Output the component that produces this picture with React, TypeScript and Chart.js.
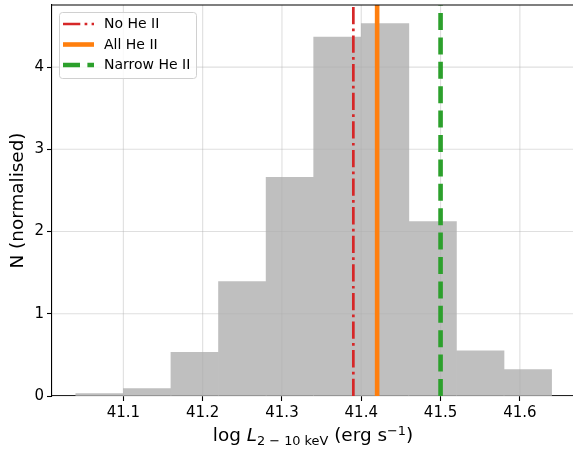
import React, { useEffect, useRef } from "react";
import { Chart, registerables } from "chart.js";

Chart.register(...registerables);

// ---- data ----
const binEdges = [41.04, 41.1, 41.16, 41.22, 41.28, 41.34, 41.4, 41.46, 41.52, 41.58, 41.64];
const density = [0.03, 0.09, 0.53, 1.39, 2.66, 4.365, 4.528, 2.12, 0.55, 0.32];
const xTicks = [41.1, 41.2, 41.3, 41.4, 41.5, 41.6];
const yTicks = [0, 1, 2, 3, 4];
const lineLabels = ["No He II", "All He II", "Narrow He II"];
const lineValues = [41.39, 41.42, 41.5];
const xRange = [41.01, 41.667];
const yMax = 4.755;

// ---- styles ----
const FONT = "'DejaVu Sans', 'Liberation Sans', sans-serif";
const lineColors = ["#d62728", "#ff7f0e", "#2ca02c"];
const lineWidths = [2.7, 4.6, 4.6];
const lineDashes: number[][] = [[17.3, 4.3, 2.7, 4.3], [], [17, 7.4]];
const barColor = "#bfbfbf";
const gridColor = "rgba(176,176,176,0.4)";
const LABEL_SIZE = 18.4;

const decor = {
  id: "decor",
  afterDatasetDraw(chart: any, args: any) {
    if (args.index !== 0) return;
    const { ctx, chartArea: a, scales } = chart;
    const x = scales.x;
    const y = scales.y;
    ctx.save();
    ctx.strokeStyle = gridColor;
    ctx.lineWidth = 1.1;
    ctx.setLineDash([]);
    xTicks.forEach((v) => {
      const px = x.getPixelForValue(v);
      ctx.beginPath();
      ctx.moveTo(px, a.top);
      ctx.lineTo(px, a.bottom);
      ctx.stroke();
    });
    yTicks.forEach((v) => {
      const py = y.getPixelForValue(v);
      ctx.beginPath();
      ctx.moveTo(a.left, py);
      ctx.lineTo(a.right, py);
      ctx.stroke();
    });
    ctx.restore();
  },
  afterDraw(chart: any) {
    const { ctx, chartArea: a } = chart;
    ctx.save();
    // top spine
    ctx.strokeStyle = "#000";
    ctx.lineWidth = 1.1;
    ctx.setLineDash([]);
    ctx.beginPath();
    ctx.moveTo(a.left, a.top);
    ctx.lineTo(a.right, a.top);
    ctx.stroke();

    // legend
    const bx = 59.5, by = 12.5, bw = 137, bh = 66, r = 3;
    ctx.beginPath();
    ctx.moveTo(bx + r, by);
    ctx.lineTo(bx + bw - r, by);
    ctx.quadraticCurveTo(bx + bw, by, bx + bw, by + r);
    ctx.lineTo(bx + bw, by + bh - r);
    ctx.quadraticCurveTo(bx + bw, by + bh, bx + bw - r, by + bh);
    ctx.lineTo(bx + r, by + bh);
    ctx.quadraticCurveTo(bx, by + bh, bx, by + bh - r);
    ctx.lineTo(bx, by + r);
    ctx.quadraticCurveTo(bx, by, bx + r, by);
    ctx.closePath();
    ctx.fillStyle = "rgba(255,255,255,0.8)";
    ctx.fill();
    ctx.strokeStyle = "#d0d0d0";
    ctx.lineWidth = 1;
    ctx.stroke();
    const rows = [24, 44.5, 65];
    lineLabels.forEach((lab, i) => {
      ctx.strokeStyle = lineColors[i];
      ctx.lineWidth = lineWidths[i];
      ctx.setLineDash(lineDashes[i]);
      ctx.lineCap = "butt";
      ctx.beginPath();
      ctx.moveTo(63, rows[i]);
      ctx.lineTo(94, rows[i]);
      ctx.stroke();
      ctx.setLineDash([]);
      ctx.fillStyle = "#000";
      ctx.font = `14px ${FONT}`;
      ctx.textAlign = "left";
      ctx.textBaseline = "middle";
      ctx.fillText(lab, 104, rows[i] + 0.5);
    });

    // y title
    ctx.save();
    ctx.translate(18, (a.top + a.bottom) / 2);
    ctx.rotate(-Math.PI / 2);
    ctx.font = `${LABEL_SIZE}px ${FONT}`;
    ctx.fillStyle = "#000";
    ctx.textAlign = "center";
    ctx.textBaseline = "middle";
    ctx.fillText("N (normalised)", 0, 0);
    ctx.restore();

    // x title with sub/superscripts
    const sub = LABEL_SIZE * 0.7;
    const pieces = [
      { t: "log ", f: `${LABEL_SIZE}px ${FONT}`, dy: 0 },
      { t: "L", f: `italic ${LABEL_SIZE}px ${FONT}`, dy: 0 },
      { t: "2 \u2212 10 keV", f: `${sub}px ${FONT}`, dy: 4 },
      { t: " (erg s", f: `${LABEL_SIZE}px ${FONT}`, dy: 0 },
      { t: "\u22121", f: `${sub}px ${FONT}`, dy: -6.5 },
      { t: ")", f: `${LABEL_SIZE}px ${FONT}`, dy: 0 },
    ];
    let total = 0;
    const widths = pieces.map((p) => {
      ctx.font = p.f;
      const w = ctx.measureText(p.t).width;
      total += w;
      return w;
    });
    let cx = 313 - total / 2;
    const base = 441;
    ctx.fillStyle = "#000";
    ctx.textAlign = "left";
    ctx.textBaseline = "alphabetic";
    pieces.forEach((p, i) => {
      ctx.font = p.f;
      ctx.fillText(p.t, cx, base + p.dy);
      cx += widths[i];
    });
    ctx.restore();
  },
};

export default function App() {
  const ref = useRef<HTMLCanvasElement>(null);

  useEffect(() => {
    document.body.style.margin = "0";
    if (!ref.current) return;
    Chart.defaults.font.family = FONT;
    const centers = density.map((_, i) => (binEdges[i] + binEdges[i + 1]) / 2);
    const barData = density.map((v, i) => ({ x: centers[i], y: v }));
    const lineSets = lineValues.map((v, i) => ({
      type: "line" as const,
      label: lineLabels[i],
      data: [
        { x: v, y: 0 },
        { x: v, y: yMax },
      ],
      borderColor: lineColors[i],
      borderWidth: lineWidths[i],
      borderDash: lineDashes[i],
      borderCapStyle: "butt" as const,
      pointRadius: 0,
      fill: false,
      tension: 0,
      order: i + 1,
    }));
    const chart = new Chart(ref.current, {
      type: "bar",
      data: {
        datasets: [
          {
            label: "hist",
            data: barData,
            backgroundColor: barColor,
            borderWidth: 0,
            barPercentage: 1,
            categoryPercentage: 1,
            inflateAmount: 0.33,
            order: 10,
          } as any,
          ...lineSets,
        ],
      },
      options: {
        responsive: false,
        animation: false,
        devicePixelRatio: 1,
        layout: { padding: { top: 5, left: 0, right: 0, bottom: 0 } },
        plugins: { legend: { display: false }, tooltip: { enabled: false } },
        scales: {
          x: {
            type: "linear",
            min: xRange[0],
            max: xRange[1],
            offset: false,
            afterBuildTicks: (s: any) => {
              s.ticks = xTicks.map((v) => ({ value: v }));
            },
            afterFit: (s: any) => {
              s.height = 54;
              s.paddingLeft = 0;
              s.paddingRight = 0;
              s.paddingTop = 0;
              s.paddingBottom = 0;
            },
            grid: {
              drawOnChartArea: false,
              drawTicks: true,
              tickLength: 5,
              tickWidth: 1.1,
              tickColor: "#000",
              offset: false,
            },
            border: { display: true, color: "#000", width: 1.1 },
            ticks: {
              color: "#000",
              font: { size: 15, family: FONT },
              padding: 3,
              maxRotation: 0,
              autoSkip: false,
              callback: (v: any) => Number(v).toFixed(1),
            },
          },
          y: {
            type: "linear",
            min: 0,
            max: yMax,
            afterBuildTicks: (s: any) => {
              s.ticks = yTicks.map((v) => ({ value: v }));
            },
            afterFit: (s: any) => {
              s.width = 52;
              s.paddingTop = 0;
              s.paddingBottom = 0;
              s.paddingLeft = 0;
              s.paddingRight = 0;
            },
            grid: {
              drawOnChartArea: false,
              drawTicks: true,
              tickLength: 5,
              tickWidth: 1.1,
              tickColor: "#000",
            },
            border: { display: true, color: "#000", width: 1.1 },
            ticks: {
              color: "#000",
              font: { size: 15, family: FONT },
              padding: 3,
              callback: (v: any) => String(v),
            },
          },
        },
      } as any,
      plugins: [decor],
    });
    return () => chart.destroy();
  }, []);

  return (
    <div style={{ width: 573, height: 450 }}>
      <canvas ref={ref} width={573} height={450} style={{ display: "block" }} />
    </div>
  );
}
